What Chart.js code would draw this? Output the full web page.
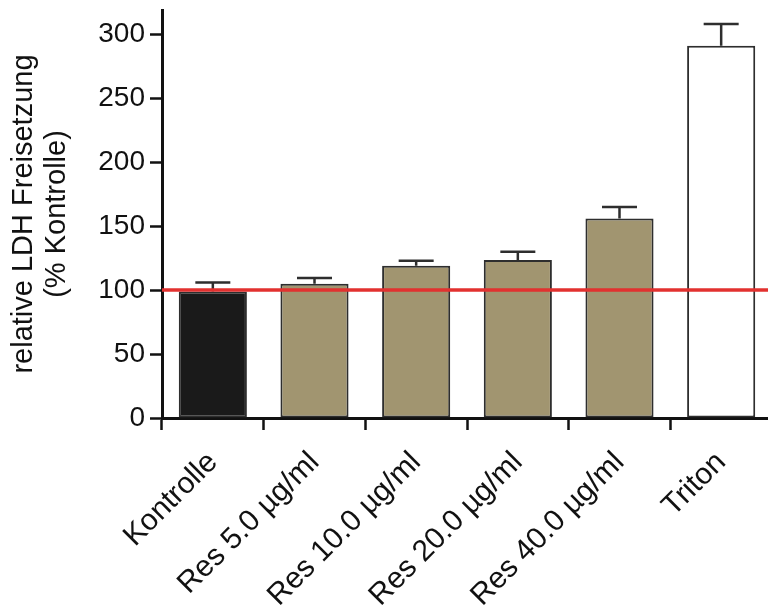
<!DOCTYPE html>
<html>
<head>
<meta charset="utf-8">
<script src="https://cdn.jsdelivr.net/npm/chart.js@4/dist/chart.umd.min.js"></script>
<style>
  html, body { margin: 0; padding: 0; background: #fff; overflow: hidden; }
  #wrap { width: 772px; height: 613px; }
</style>
</head>
<body>
<div id="wrap"><canvas id="c" width="772" height="613"></canvas></div>
<script>
// LDH release relative to untreated control (% of control), mean + SEM
const categories = ['Kontrolle', 'Res 5.0 µg/ml', 'Res 10.0 µg/ml', 'Res 20.0 µg/ml', 'Res 40.0 µg/ml', 'Triton'];
const means = [99, 105, 119, 123.5, 156, 291];
const errors = [7, 4.5, 4, 6.5, 9, 17];
const barColors = ['#1a1a1a', '#a19570', '#a19570', '#a19570', '#a19570', '#ffffff'];
const yTicks = [0, 50, 100, 150, 200, 250, 300];
const referenceLevel = 100;

const FONT = 'Liberation Sans, Arial, Helvetica, sans-serif';
const INK = '#2e2e2e';

// upward error bars with caps
const errorBars = {
  id: 'errorBars',
  afterDatasetsDraw(chart) {
    const ctx = chart.ctx;
    const meta = chart.getDatasetMeta(0);
    const y = chart.scales.y;
    ctx.save();
    ctx.strokeStyle = INK;
    ctx.lineWidth = 2.5;
    meta.data.forEach((bar, i) => {
      const x = bar.x;
      const y0 = y.getPixelForValue(means[i]);
      const y1 = y.getPixelForValue(means[i] + errors[i]);
      ctx.beginPath();
      ctx.moveTo(x, y0);
      ctx.lineTo(x, y1);
      ctx.moveTo(x - 17.5, y1);
      ctx.lineTo(x + 17.5, y1);
      ctx.stroke();
    });
    ctx.restore();
  }
};

// horizontal control level line across the plot
const controlLine = {
  id: 'controlLine',
  afterDraw(chart) {
    const ctx = chart.ctx;
    const y = chart.scales.y.getPixelForValue(referenceLevel);
    ctx.save();
    ctx.strokeStyle = '#e2312f';
    ctx.lineWidth = 3.5;
    ctx.beginPath();
    ctx.moveTo(chart.chartArea.left, y);
    ctx.lineTo(chart.width, y);
    ctx.stroke();
    ctx.restore();
  }
};

new Chart(document.getElementById('c'), {
  type: 'bar',
  data: {
    labels: categories,
    datasets: [{
      data: means,
      backgroundColor: barColors,
      borderColor: INK,
      borderWidth: 2,
      borderSkipped: false,
      barPercentage: 0.67,
      categoryPercentage: 1.0
    }]
  },
  options: {
    responsive: false,
    animation: false,
    events: [],
    layout: { padding: { top: 10, left: 0, right: 0, bottom: 0 } },
    plugins: {
      legend: { display: false },
      tooltip: { enabled: false }
    },
    scales: {
      x: {
        grid: {
          display: true,
          drawOnChartArea: false,
          drawTicks: true,
          tickLength: 12,
          tickWidth: 2.5,
          color: '#111'
        },
        border: { display: true, color: '#111', width: 3 },
        ticks: {
          color: '#111',
          font: { family: FONT, size: 30 },
          minRotation: 45,
          maxRotation: 45,
          padding: 15,
          autoSkip: false
        },
        afterFit(scale) {
          scale.height = 195;
          scale.paddingLeft = 0;
          scale.paddingRight = 0;
        }
      },
      y: {
        min: 0,
        max: 319,
        afterBuildTicks(scale) { scale.ticks = yTicks.map(v => ({ value: v })); },
        grid: {
          display: true,
          drawOnChartArea: false,
          drawTicks: true,
          tickLength: 12,
          tickWidth: 2.5,
          color: '#111'
        },
        border: { display: true, color: '#111', width: 3 },
        ticks: {
          color: '#111',
          font: { family: FONT, size: 28 },
          padding: 5
        },
        title: {
          display: true,
          text: ['relative LDH Freisetzung', '(% Kontrolle)'],
          color: '#111',
          font: { family: FONT, size: 29, lineHeight: 1.12 },
          padding: { top: 8, bottom: 0 }
        },
        afterFit(scale) {
          scale.width = 162;
          scale.paddingTop = 0;
          scale.paddingBottom = 0;
        }
      }
    }
  },
  plugins: [errorBars, controlLine]
});
</script>
</body>
</html>
